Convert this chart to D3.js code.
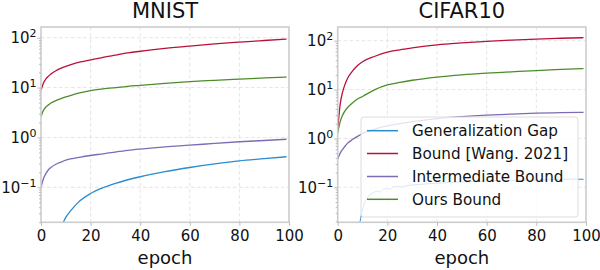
<!DOCTYPE html>
<html><head><meta charset="utf-8">
<script src="https://cdn.jsdelivr.net/npm/d3@7"></script>
<style>
body{margin:0;background:#fff;}
svg{font-family:"DejaVu Sans",sans-serif;}
</style></head>
<body><svg id="c" width="600" height="270"></svg>
<script>
// ---------- data ----------
const panelTitles = ["MNIST", "CIFAR10"];
const xTicks = [0, 20, 40, 60, 80, 100];
const yTicks = [0.1, 1, 10, 100];
const seriesNames = ["Generalization Gap", "Bound [Wang. 2021]", "Intermediate Bound", "Ours Bound"];

// MNIST
const mnistBoundEpochs = [0,1,2,3,4,6,8,10,13,16,20,25,30,35,40,50,60,70,80,90,99];
const mnistWang  = [8.8,12.4,15.0,17.0,18.8,21.8,24.3,26.6,29.8,32.6,36,40.5,44.8,49.5,53.5,61,68,75,81.5,88,94];
const mnistOurs  = [2.6,3.5,4.1,4.5,4.9,5.5,6.0,6.5,7.2,7.9,8.7,9.4,10.0,10.6,11.1,12.2,13.2,14.0,14.8,15.6,16.3];
const mnistInter = [0.098,0.15,0.19,0.225,0.25,0.29,0.32,0.35,0.38,0.405,0.435,0.47,0.51,0.55,0.585,0.65,0.70,0.76,0.82,0.87,0.92];
const mnistGapEpochs = [6,8,9,10,12,15,20,25,30,40,50,60,70,80,90,99];
const mnistGap = [0.008,0.016,0.02,0.025,0.034,0.05,0.075,0.098,0.12,0.163,0.206,0.25,0.295,0.34,0.375,0.41];

// CIFAR10
const cifarBoundEpochs = [0,1,2,3,4,6,8,10,15,20,25,30,40,50,60,70,80,90,99];
const cifarWang  = [1.5,5,9,13,17,24,31,37,48,58,65,71,82,90,97,103,108,112,115];
const cifarOurs  = [1.3,2.2,3.0,3.7,4.3,5.4,6.4,7.2,10,12.5,14,15.5,18,20,21.6,23,24.5,25.8,26.9];
const cifarInter = [0.38,0.5,0.6,0.7,0.8,0.95,1.1,1.25,1.55,1.8,2.0,2.2,2.55,2.8,3.0,3.15,3.28,3.36,3.42];
const cifarGapEpochs = [8,9,10,11,12,13,14,16,17,18,20,21,22,24,26,28,30,33,36,40,45,50,55,60,65,70,75,80,85,90,95,99];
const cifarGap = [0.012,0.02,0.035,0.05,0.062,0.07,0.076,0.083,0.08,0.088,0.095,0.09,0.1,0.104,0.102,0.108,0.112,0.114,0.118,0.121,0.125,0.128,0.131,0.135,0.136,0.138,0.14,0.142,0.143,0.146,0.147,0.146];

const colors = ["#2b8ccf", "#b8123b", "#7e6bb4", "#4c8c2b"];

// ---------- drawing ----------
const svg = d3.select("#c");
const panels = [
  {title: panelTitles[0], x0: 41, x1: 289, yDom: [0.0199, 164],
   series: [[mnistGapEpochs, mnistGap],[mnistBoundEpochs, mnistWang],[mnistBoundEpochs, mnistInter],[mnistBoundEpochs, mnistOurs]]},
  {title: panelTitles[1], x0: 337.7, x1: 586, yDom: [0.01923, 190.5],
   series: [[cifarGapEpochs, cifarGap],[cifarBoundEpochs, cifarWang],[cifarBoundEpochs, cifarInter],[cifarBoundEpochs, cifarOurs]]}
];
const plotTop = 27, plotBottom = 222.3;

panels.forEach((p, pi) => {
  const x = d3.scaleLinear().domain([0, 100]).range([p.x0, p.x1]);
  const y = d3.scaleLog().domain(p.yDom).range([plotBottom, plotTop]);
  const g = svg.append("g");

  // grid
  g.append("g").selectAll("line").data(xTicks.slice(1, -1)).join("line")
    .attr("x1", d => x(d)).attr("x2", d => x(d)).attr("y1", plotTop).attr("y2", plotBottom)
    .attr("stroke", "#e2e2e2").attr("stroke-width", 0.9).attr("stroke-dasharray", "3.5,2.5");
  g.append("g").selectAll("line").data(yTicks).join("line")
    .attr("x1", p.x0).attr("x2", p.x1).attr("y1", d => y(d)).attr("y2", d => y(d))
    .attr("stroke", "#e2e2e2").attr("stroke-width", 0.9).attr("stroke-dasharray", "3.5,2.5");

  // clip
  const cid = "clip" + pi;
  svg.append("clipPath").attr("id", cid).append("rect")
    .attr("x", p.x0).attr("y", plotTop).attr("width", p.x1 - p.x0).attr("height", plotBottom - plotTop);

  const line = d3.line().curve(d3.curveMonotoneX);
  const lg = g.append("g").attr("clip-path", `url(#${cid})`);
  p.series.forEach((s, si) => {
    const pts = s[0].map((e, i) => [x(e), y(s[1][i])]);
    lg.append("path").attr("d", line(pts)).attr("fill", "none")
      .attr("stroke", colors[si]).attr("stroke-width", (pi === 1 && si === 0) ? 1.0 : 1.3);
  });

  // frame
  g.append("rect").attr("x", p.x0).attr("y", plotTop).attr("width", p.x1 - p.x0).attr("height", plotBottom - plotTop)
    .attr("fill", "none").attr("stroke", "#cccccc").attr("stroke-width", 1.6);

  // minor y ticks
  const minor = [];
  for (let e = -2; e <= 2; e++) for (let m = 2; m <= 9; m++) {
    const v = m * Math.pow(10, e);
    if (v >= p.yDom[0] && v <= p.yDom[1]) minor.push(v);
  }
  const minorAxis = g.append("g").attr("transform", `translate(${p.x0},0)`)
    .call(d3.axisLeft(y).tickValues(minor).tickFormat(() => "").tickSize(2));
  minorAxis.select(".domain").remove();
  minorAxis.selectAll("line").attr("stroke", "#bbbbbb");

  // major y ticks
  const yAx = g.append("g").attr("transform", `translate(${p.x0},0)`)
    .call(d3.axisLeft(y).tickValues(yTicks).tickFormat(() => "").tickSize(3.5).tickPadding(1));
  yAx.select(".domain").remove();
  yAx.selectAll("line").attr("stroke", "#bbbbbb");
  yAx.selectAll("text").attr("font-size", 15).attr("fill", "#111").attr("font-family", "DejaVu Sans")
    .each(function(d) {
      const t = d3.select(this);
      const ex = Math.round(Math.log10(d));
      t.append("tspan").text("10");
      t.append("tspan").attr("font-size", 11).attr("dy", "-0.55em").text(ex < 0 ? "\u2212" + (-ex) : String(ex));
    });

  // x axis
  const xAx = g.append("g").attr("transform", `translate(0,${plotBottom})`)
    .call(d3.axisBottom(x).tickValues(xTicks).tickFormat(d3.format("d")).tickSize(3.5).tickPadding(4.5));
  xAx.select(".domain").remove();
  xAx.selectAll("line").attr("stroke", "#bbbbbb");
  xAx.selectAll("text").attr("font-size", 15).attr("fill", "#111").attr("font-family", "DejaVu Sans");

  // title and xlabel
  svg.append("text").attr("x", (p.x0 + p.x1) / 2).attr("y", 18).attr("text-anchor", "middle")
    .attr("font-size", 21).attr("fill", "#111").text(p.title);
  svg.append("text").attr("x", (p.x0 + p.x1) / 2).attr("y", 264).attr("text-anchor", "middle")
    .attr("font-size", 18).attr("fill", "#111").text("epoch");

  // legend in second panel
  if (pi === 1) {
    const leg = svg.append("g");
    leg.append("rect").attr("x", 361).attr("y", 117).attr("width", 217).attr("height", 100)
      .attr("rx", 3).attr("fill", "#fff").attr("fill-opacity", 0.8).attr("stroke", "#dddddd").attr("stroke-width", 1);
    const rowY = [130.7, 153.5, 176.5, 199.3];
    seriesNames.forEach((n, i) => {
      leg.append("line").attr("x1", 367).attr("x2", 398).attr("y1", rowY[i]).attr("y2", rowY[i])
        .attr("stroke", colors[i]).attr("stroke-width", 1.5);
      leg.append("text").attr("x", 412).attr("y", rowY[i] + 5.4).attr("font-size", 15.2)
        .attr("fill", "#111").text(n);
    });
  }
});
</script></body></html>
